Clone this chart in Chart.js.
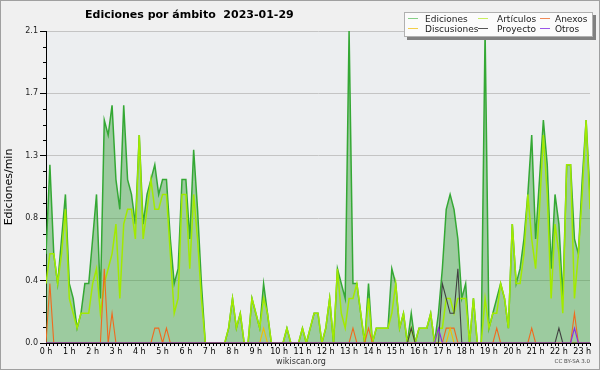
<!DOCTYPE html>
<html>
<head>
<meta charset="utf-8">
<script src="https://cdn.jsdelivr.net/npm/chart.js@4.4.0/dist/chart.umd.min.js"></script>
<style>
html, body { margin: 0; padding: 0; background: #f0f0f0; }
#wrap { width: 600px; height: 370px; }
</style>
</head>
<body>
<div id="wrap"><canvas id="chart" width="600" height="370"></canvas></div>
<script>
// --- data: edits per minute, one value every 10 minutes (0:00 .. 23:20) ---
const hourLabels = ['0 h', '1 h', '2 h', '3 h', '4 h', '5 h', '6 h', '7 h', '8 h', '9 h', '10 h', '11 h',
    '12 h', '13 h', '14 h', '15 h', '16 h', '17 h', '18 h', '19 h', '20 h', '21 h', '22 h', '23 h'];
const yTickLabels = ['0.0', '0.4', '0.8', '1.3', '1.7', '2.1'];
const seriesNames = ['Ediciones', 'Artículos', 'Anexos', 'Discusiones', 'Proyecto', 'Otros'];

const ediciones = [
    0.6, 1.2, 0.6, 0.4, 0.7, 1.0,   0.4, 0.3, 0.1, 0.2, 0.4, 0.4,   0.7, 1.0, 0.3, 1.5, 1.4, 1.6,
    1.1, 0.9, 1.6, 1.1, 1.0, 0.8,   1.4, 0.8, 1.0, 1.1, 1.2, 1.0,   1.1, 1.1, 0.7, 0.4, 0.5, 1.1,
    1.1, 0.7, 1.3, 0.9, 0.4, 0,     0, 0, 0, 0, 0, 0.1,             0.3, 0.1, 0.2, 0, 0, 0.3,
    0.2, 0.1, 0.4, 0.2, 0, 0,       0, 0, 0.1, 0, 0, 0,             0.1, 0, 0.1, 0.2, 0.2, 0,
    0.1, 0.3, 0, 0.5, 0.4, 0.3,     2.1, 0.4, 0.4, 0.2, 0, 0.4,     0, 0.1, 0.1, 0.1, 0.1, 0.5,
    0.4, 0.1, 0.2, 0, 0.2, 0,       0.1, 0.1, 0.1, 0.2, 0, 0.2,     0.5, 0.9, 1.0, 0.9, 0.7, 0.3,
    0.4, 0, 0.3, 0, 0, 2.1,         0.1, 0.2, 0.3, 0.4, 0.3, 0.1,   0.8, 0.4, 0.5, 0.7, 1.0, 1.4,
    0.7, 1.1, 1.5, 1.2, 0.5, 1.0,   0.8, 0.3, 1.2, 1.2, 0.7, 0.6,   1.1, 1.5, 1.0
];
const articulos = [
    0.4, 0.6, 0.6, 0.4, 0.6, 0.9,   0.3, 0.2, 0.1, 0.2, 0.2, 0.2,   0.4, 0.5, 0.2, 0.4, 0.5, 0.6,
    0.8, 0.3, 0.8, 0.9, 0.9, 0.7,   1.4, 0.7, 0.9, 1.1, 0.9, 0.9,   1.0, 1.0, 0.6, 0.2, 0.3, 1.0,
    1.0, 0.5, 1.0, 0.7, 0.3, 0,     0, 0, 0, 0, 0, 0.1,             0.3, 0.1, 0.2, 0, 0, 0.3,
    0.2, 0.1, 0.3, 0.2, 0, 0,       0, 0, 0.1, 0, 0, 0,             0.1, 0, 0.1, 0.2, 0.2, 0,
    0.1, 0.3, 0, 0.5, 0.2, 0.1,     0.3, 0.3, 0.4, 0.2, 0, 0.3,     0, 0.1, 0.1, 0.1, 0.1, 0.2,
    0.4, 0.1, 0.2, 0, 0.1, 0,       0.1, 0.1, 0.1, 0.2, 0, 0.1,     0.1, 0.3, 0.3, 0.2, 0.3, 0.3,
    0.3, 0, 0.3, 0, 0, 0.3,         0.1, 0.2, 0.2, 0.4, 0.3, 0.1,   0.8, 0.4, 0.4, 0.6, 1.0, 0.7,
    0.5, 0.9, 1.4, 1.0, 0.3, 0.8,   0.6, 0.2, 1.2, 1.2, 0.3, 0.6,   1.0, 1.5, 0.9
];
const anexos = [
    0, 0.4, 0, 0, 0, 0,   0, 0, 0, 0, 0, 0,   0, 0, 0, 0.5, 0, 0.2,   0, 0, 0, 0, 0, 0,
    0, 0, 0, 0, 0.1, 0.1, 0, 0.1, 0, 0, 0, 0,  0, 0, 0, 0, 0, 0,   0, 0, 0, 0, 0, 0,
    0, 0, 0, 0, 0, 0,     0, 0, 0, 0, 0, 0,   0, 0, 0, 0, 0, 0,     0, 0, 0, 0, 0, 0,
    0, 0, 0, 0, 0, 0,     0, 0.1, 0, 0, 0, 0.1,  0, 0, 0, 0, 0, 0,  0, 0, 0, 0, 0, 0,
    0, 0, 0, 0, 0, 0,     0, 0.1, 0.1, 0.1, 0, 0,  0, 0, 0, 0, 0, 0,  0, 0, 0.1, 0, 0, 0,
    0, 0, 0, 0, 0, 0.1,   0, 0, 0, 0, 0, 0,   0, 0, 0, 0, 0.2, 0,   0, 0, 0
];
const discusiones = [
    0, 0, 0, 0, 0, 0,   0, 0, 0, 0, 0, 0,   0, 0, 0, 0, 0, 0,   0, 0, 0, 0, 0, 0,
    0, 0, 0, 0, 0, 0,   0, 0, 0, 0, 0, 0,   0, 0, 0, 0, 0, 0,   0, 0, 0, 0, 0, 0,
    0, 0, 0, 0, 0, 0,   0, 0, 0.1, 0, 0, 0, 0, 0, 0, 0, 0, 0,   0, 0, 0, 0, 0, 0,
    0, 0, 0, 0, 0, 0,   0, 0, 0, 0, 0, 0,   0, 0, 0, 0, 0, 0,   0, 0, 0, 0, 0, 0,
    0, 0, 0, 0, 0, 0,   0, 0, 0.1, 0, 0, 0, 0, 0, 0, 0, 0, 0,   0, 0, 0, 0, 0, 0,
    0, 0, 0, 0, 0, 0,   0, 0, 0, 0, 0, 0,   0, 0, 0, 0, 0, 0,   0, 0, 0
];
const proyecto = [
    0, 0, 0, 0, 0, 0,   0, 0, 0, 0, 0, 0,   0, 0, 0, 0, 0, 0,   0, 0, 0, 0, 0, 0,
    0, 0, 0, 0, 0, 0,   0, 0, 0, 0, 0, 0,   0, 0, 0, 0, 0, 0,   0, 0, 0, 0, 0, 0,
    0, 0, 0, 0, 0, 0,   0, 0, 0, 0, 0, 0,   0, 0, 0, 0, 0, 0,   0, 0, 0, 0, 0, 0,
    0, 0, 0, 0, 0, 0,   0, 0, 0, 0, 0, 0,   0, 0, 0, 0, 0, 0,   0, 0, 0, 0, 0.1, 0,
    0, 0, 0, 0, 0, 0,   0.4, 0.3, 0.2, 0.2, 0.5, 0,   0, 0, 0, 0, 0, 0,   0, 0, 0, 0, 0, 0,
    0, 0, 0, 0, 0, 0,   0, 0, 0, 0, 0, 0,   0.1, 0, 0, 0, 0, 0,   0, 0, 0
];
const otros = [
    0, 0, 0, 0, 0, 0,   0, 0, 0, 0, 0, 0,   0, 0, 0, 0, 0, 0,   0, 0, 0, 0, 0, 0,
    0, 0, 0, 0, 0, 0,   0, 0, 0, 0, 0, 0,   0, 0, 0, 0, 0, 0,   0, 0, 0, 0, 0, 0,
    0, 0, 0, 0, 0, 0,   0, 0, 0, 0, 0, 0,   0, 0, 0, 0, 0, 0,   0, 0, 0, 0, 0, 0,
    0, 0, 0, 0, 0, 0,   0, 0, 0, 0, 0, 0,   0, 0, 0, 0, 0, 0,   0, 0, 0, 0, 0, 0,
    0, 0, 0, 0, 0, 0.1, 0, 0, 0, 0, 0, 0,   0, 0, 0, 0, 0, 0,   0, 0, 0, 0, 0, 0,
    0, 0, 0, 0, 0, 0,   0, 0, 0, 0, 0, 0,   0, 0, 0, 0, 0.1, 0, 0, 0, 0
];

const slotsPerHour = 6;
const yMax = 2.1;
const yMinorPerMajor = 4;

// line colours in the plot, and the paler ones used in the legend box
const lineColors = ['#34a834', '#a2ea00', '#f06a1e', '#f0c000', '#404040', '#8a2be2'];
const legendColors = ['#86cf86', '#c9ee5e', '#f08a58', '#f3cf4a', '#555555', '#9a55e8'];

const font = 'DejaVu Sans';
Chart.defaults.font.family = font;
Chart.defaults.color = '#000';

function toPoints(values) {
    return values.map((v, i) => ({ x: i, y: v }));
}

// --- background, minor ticks, title, legend and footer ---
const decorPlugin = {
    id: 'decor',
    beforeDraw(chart) {
        const c = chart.ctx;
        const a = chart.chartArea;
        c.save();
        c.fillStyle = '#f0f0f0';
        c.fillRect(0, 0, chart.width, chart.height);
        c.fillStyle = '#eceef0';
        c.fillRect(a.left, a.top, a.right - a.left, a.bottom - a.top);
        c.restore();
    },
    afterDraw(chart) {
        const c = chart.ctx;
        const a = chart.chartArea;
        const yScale = chart.scales.y;
        c.save();

        // short minor ticks on the y axis
        c.strokeStyle = '#000';
        c.lineWidth = 1;
        yScale.ticks.forEach((t, i) => {
            if (i % yMinorPerMajor === 0) return;
            const py = Math.round(yScale.getPixelForValue(t.value)) + 0.5;
            c.beginPath();
            c.moveTo(a.left - 3, py);
            c.lineTo(a.left, py);
            c.stroke();
        });

        // title
        c.fillStyle = '#000';
        c.font = 'bold 11px "' + font + '"';
        c.textAlign = 'left';
        c.textBaseline = 'alphabetic';
        c.fillText('Ediciones por ámbito  2023-01-29', 85, 18);

        // legend box with its shadow
        const bx = 404, by = 12, bw = 189, bh = 25;
        c.fillStyle = '#808080';
        c.fillRect(bx + 3, by + 3, bw, bh);
        c.fillStyle = '#fbfbfb';
        c.fillRect(bx, by, bw, bh);
        c.strokeStyle = '#b0b0b0';
        c.strokeRect(bx + 0.5, by + 0.5, bw - 1, bh - 1);

        const colLine = [408, 478, 540];
        const colText = [425, 497, 555];
        const rowY = [18.5, 28.5];
        c.font = '9px "' + font + '"';
        c.textBaseline = 'middle';
        seriesNames.forEach((name, k) => {
            const col = k % 3, row = Math.floor(k / 3);
            c.strokeStyle = legendColors[k];
            c.beginPath();
            c.moveTo(colLine[col], rowY[row]);
            c.lineTo(colLine[col] + 10, rowY[row]);
            c.stroke();
            c.fillStyle = '#222';
            c.fillText(name, colText[col], rowY[row] + 1);
        });

        // footer
        c.fillStyle = '#333';
        c.textAlign = 'center';
        c.font = '8px "' + font + '"';
        c.fillText('wikiscan.org', 301, 362);
        c.textAlign = 'right';
        c.fillStyle = '#444';
        c.font = '5.5px "' + font + '"';
        c.fillText('CC BY-SA 3.0', 590, 362);

        // outer frame
        c.strokeStyle = '#a0a0a0';
        c.strokeRect(0.5, 0.5, chart.width - 1, chart.height - 1);
        c.restore();
    }
};

const seriesValues = [ediciones, articulos, anexos, discusiones, proyecto, otros];
const datasets = seriesNames.map((name, k) => ({
    label: name,
    data: toPoints(seriesValues[k]),
    borderColor: lineColors[k],
    borderWidth: k < 2 ? 1.5 : 1.1,
    fill: k === 0 ? 'origin' : false,
    backgroundColor: k === 0 ? 'rgba(60, 160, 60, 0.45)' : 'transparent',
    order: k === 0 ? 10 : 6 - k
}));

const ctx = document.getElementById('chart');
new Chart(ctx, {
    type: 'line',
    data: { datasets: datasets },
    plugins: [decorPlugin],
    options: {
        responsive: false,
        animation: false,
        layout: { padding: { top: 31, right: 10, bottom: 10, left: 0 } },
        elements: {
            point: { radius: 0, hoverRadius: 0 },
            line: { tension: 0 }
        },
        plugins: {
            legend: { display: false },
            title: { display: false },
            tooltip: { enabled: false }
        },
        scales: {
            x: {
                type: 'linear',
                min: 0,
                max: ediciones.length - 1,
                z: 1,
                afterBuildTicks: scale => {
                    scale.ticks = ediciones.map((v, i) => ({ value: i }));
                },
                afterFit: scale => { scale.height = 17; },
                ticks: {
                    autoSkip: false,
                    maxRotation: 0,
                    padding: 1,
                    font: { size: 8 },
                    callback: value => value % slotsPerHour === 0 ? hourLabels[value / slotsPerHour] : ''
                },
                grid: { drawOnChartArea: false, tickLength: 3, color: '#000', tickColor: '#000' },
                border: { color: '#000', width: 1 }
            },
            y: {
                min: 0,
                max: yMax,
                afterBuildTicks: scale => {
                    const step = yMax / (yMinorPerMajor * (yTickLabels.length - 1));
                    const ticks = [];
                    for (let k = 0; k <= yMinorPerMajor * (yTickLabels.length - 1); k++) {
                        ticks.push({ value: k * step });
                    }
                    scale.ticks = ticks;
                },
                afterFit: scale => { scale.width = 46; },
                ticks: {
                    padding: 2,
                    font: { size: 8 },
                    color: '#222',
                    callback: (value, index) => index % yMinorPerMajor === 0 ? yTickLabels[index / yMinorPerMajor] : ''
                },
                grid: {
                    tickLength: 6,
                    color: c => (c.index % yMinorPerMajor === 0 && c.index > 0) ? '#c4c4c4' : 'transparent',
                    tickColor: c => c.index % yMinorPerMajor === 0 ? '#000' : 'transparent'
                },
                border: { color: '#000', width: 1 },
                title: {
                    display: true,
                    text: 'Ediciones/min',
                    font: { size: 11 },
                    padding: { top: 3, bottom: 0 }
                }
            }
        }
    }
});
</script>
</body>
</html>
